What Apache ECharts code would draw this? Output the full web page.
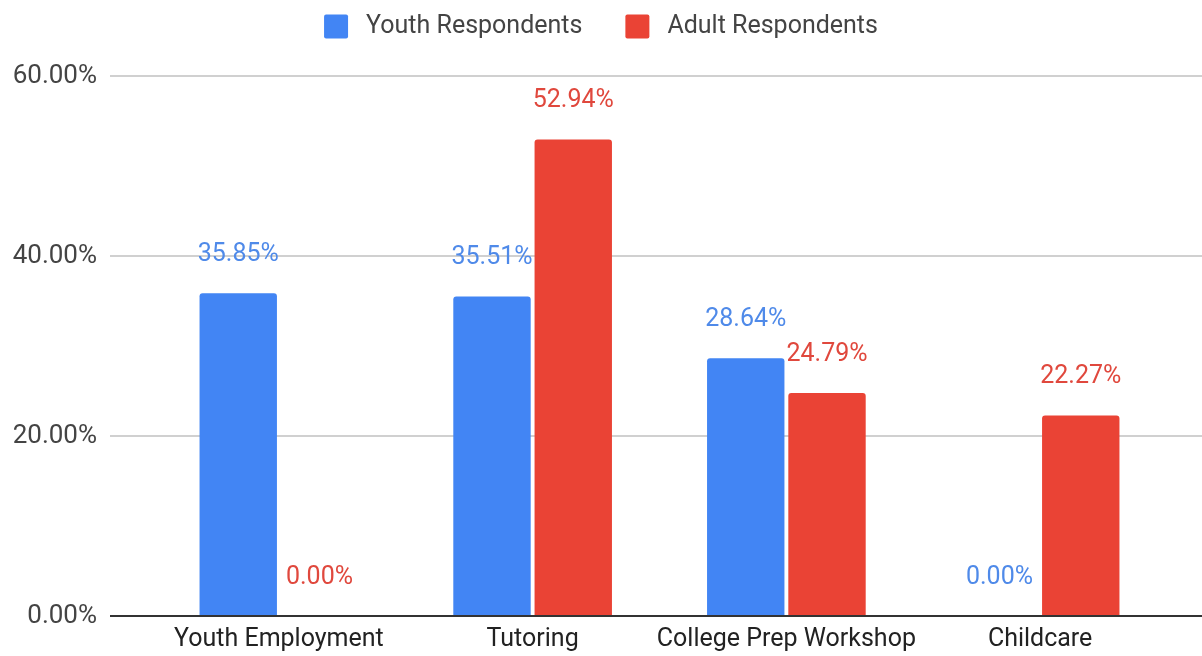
<!DOCTYPE html>
<html><head><meta charset="utf-8">
<script src="https://cdn.jsdelivr.net/npm/echarts@6/dist/echarts.min.js"></script>
<style>html,body{margin:0;padding:0;background:#fff}#c{width:1202px;height:656px}</style>
</head><body><div id="c"></div>
<script>
const categories = ['Youth Employment', 'Tutoring', 'College Prep Workshop', 'Childcare'];
const youth = [35.85, 35.51, 28.64, 0.00];
const adult = [0.00, 52.94, 24.79, 22.27];
const seriesNames = ['Youth Respondents', 'Adult Respondents'];
const yMin = 0, yMax = 60, yStep = 20;

const BLUE = '#4285F4', RED = '#EA4335';
const FONT = 'Roboto';
const ICON = 'path://M2,0 H22 Q24,0 24,2 V22 Q24,24 22,24 H2 Q0,24 0,22 V2 Q0,0 2,0 Z';
const chart = echarts.init(document.getElementById('c'), null, {renderer: 'canvas'});
const pct = v => Number(v).toFixed(2) + '%';
chart.setOption({
  animation: false,
  textStyle: {fontFamily: FONT},
  legend: {
    top: 9, left: 'center', itemWidth: 24, itemHeight: 24, itemGap: 43,
    icon: ICON,
    textStyle: {fontSize: 25, color: '#444', fontFamily: FONT, padding: [0, 0, 0, 13]},
    data: seriesNames
  },
  grid: [
    {left: 110, right: 0, top: 76, bottom: 40},
    {left: 152, right: 35, top: 76, bottom: 40}
  ],
  xAxis: [
    {gridIndex: 0, type: 'value', min: 0, max: 1, show: false},
    {gridIndex: 1, type: 'category', data: categories,
     axisLine: {show: false}, axisTick: {show: false},
     axisLabel: {interval: 0, fontSize: 25, color: '#222', margin: 11, fontFamily: FONT}}
  ],
  yAxis: [
    {gridIndex: 0, type: 'value', min: yMin, max: yMax, interval: yStep,
     axisLabel: {formatter: pct, fontSize: 26, color: '#444', margin: 13, fontFamily: FONT},
     axisLine: {show: false}, axisTick: {show: false},
     splitLine: {lineStyle: {color: '#d0d0d0', width: 2}}},
    {gridIndex: 1, type: 'value', min: yMin, max: yMax, interval: yStep, show: false}
  ],
  series: [
    {name: seriesNames[0], type: 'bar', xAxisIndex: 1, yAxisIndex: 1, data: youth,
     barWidth: '30.5%', barGap: '5%', itemStyle: {color: BLUE, borderRadius: [3,3,0,0]},
     label: {show: true, position: 'top', distance: 26, formatter: p => pct(p.value),
             color: '#4f8ae9', fontSize: 25, fontFamily: FONT}},
    {name: seriesNames[1], type: 'bar', xAxisIndex: 1, yAxisIndex: 1, data: adult,
     barWidth: '30.5%', itemStyle: {color: RED, borderRadius: [3,3,0,0]},
     label: {show: true, position: 'top', distance: 26, formatter: p => pct(p.value),
             color: '#e0483d', fontSize: 25, fontFamily: FONT}},
    {type: 'line', xAxisIndex: 0, yAxisIndex: 0, data: [[0, 0], [1, 0]], symbol: 'none',
     lineStyle: {color: '#333', width: 2}, silent: true, z: 5}
  ]
});
</script></body></html>
